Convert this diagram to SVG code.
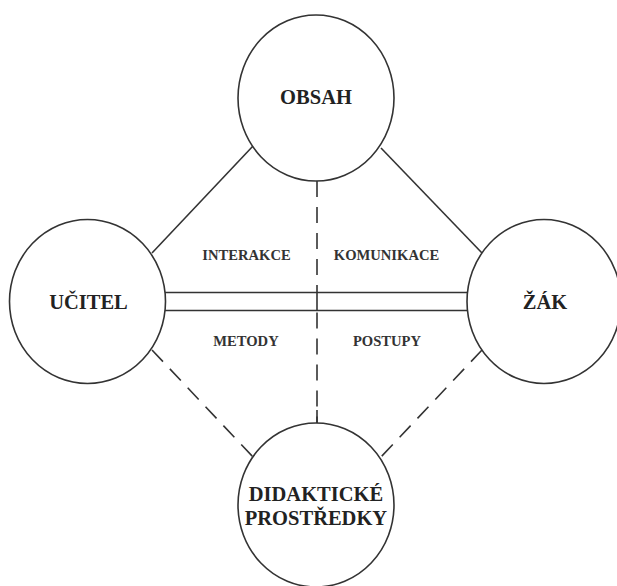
<svg xmlns="http://www.w3.org/2000/svg" width="617" height="586" viewBox="0 0 617 586">
<style>
.n{fill:#fff;stroke:#333;stroke-width:1.6}
.l{stroke:#333;stroke-width:1.6;fill:none}
.d{stroke-dasharray:16 10}
.big{font-family:"Liberation Serif",serif;font-weight:bold;font-size:20.5px;fill:#222;text-anchor:middle}
.sm{font-family:"Liberation Serif",serif;font-weight:bold;font-size:14.6px;fill:#333;text-anchor:middle}
</style>
<rect width="617" height="586" fill="#fff"/>
<g id="connectors">
<line class="l" x1="253" y1="146" x2="152" y2="253"/>
<line class="l" x1="381" y1="148" x2="482" y2="253"/>
<line class="l d" x1="152" y1="350" x2="253" y2="457"/>
<line class="l d" x1="482" y1="350" x2="381" y2="457"/>
<line class="l" x1="165" y1="292.5" x2="467" y2="292.5"/>
<line class="l" x1="165" y1="310.5" x2="467" y2="310.5"/>
<line class="l d" x1="317" y1="181" x2="317" y2="292.5"/>
<line class="l" x1="317" y1="292.5" x2="317" y2="310.5"/>
<line class="l d" x1="317" y1="310.5" x2="317" y2="423" stroke-dashoffset="-2"/>
<line class="l" x1="317" y1="410" x2="317" y2="423"/>
</g>
<g id="obsah">
<ellipse class="n" cx="316" cy="98" rx="78" ry="83"/>
<text class="big" x="316" y="104">OBSAH</text>
</g>
<g id="ucitel">
<ellipse class="n" cx="87.5" cy="301.5" rx="78" ry="82"/>
<text class="big" x="88.5" y="309">UČITEL</text>
</g>
<g id="zak">
<ellipse class="n" cx="544" cy="301.5" rx="77" ry="82"/>
<text class="big" x="545" y="309">ŽÁK</text>
</g>
<g id="didakticke">
<ellipse class="n" cx="316" cy="505" rx="78" ry="82"/>
<text class="big" x="316" y="501">DIDAKTICKÉ</text>
<text class="big" x="316" y="525">PROSTŘEDKY</text>
</g>
<g id="labels">
<text class="sm" x="246.5" y="260">INTERAKCE</text>
<text class="sm" x="386.5" y="260">KOMUNIKACE</text>
<text class="sm" x="246" y="346">METODY</text>
<text class="sm" x="387" y="346">POSTUPY</text>
</g>
</svg>
